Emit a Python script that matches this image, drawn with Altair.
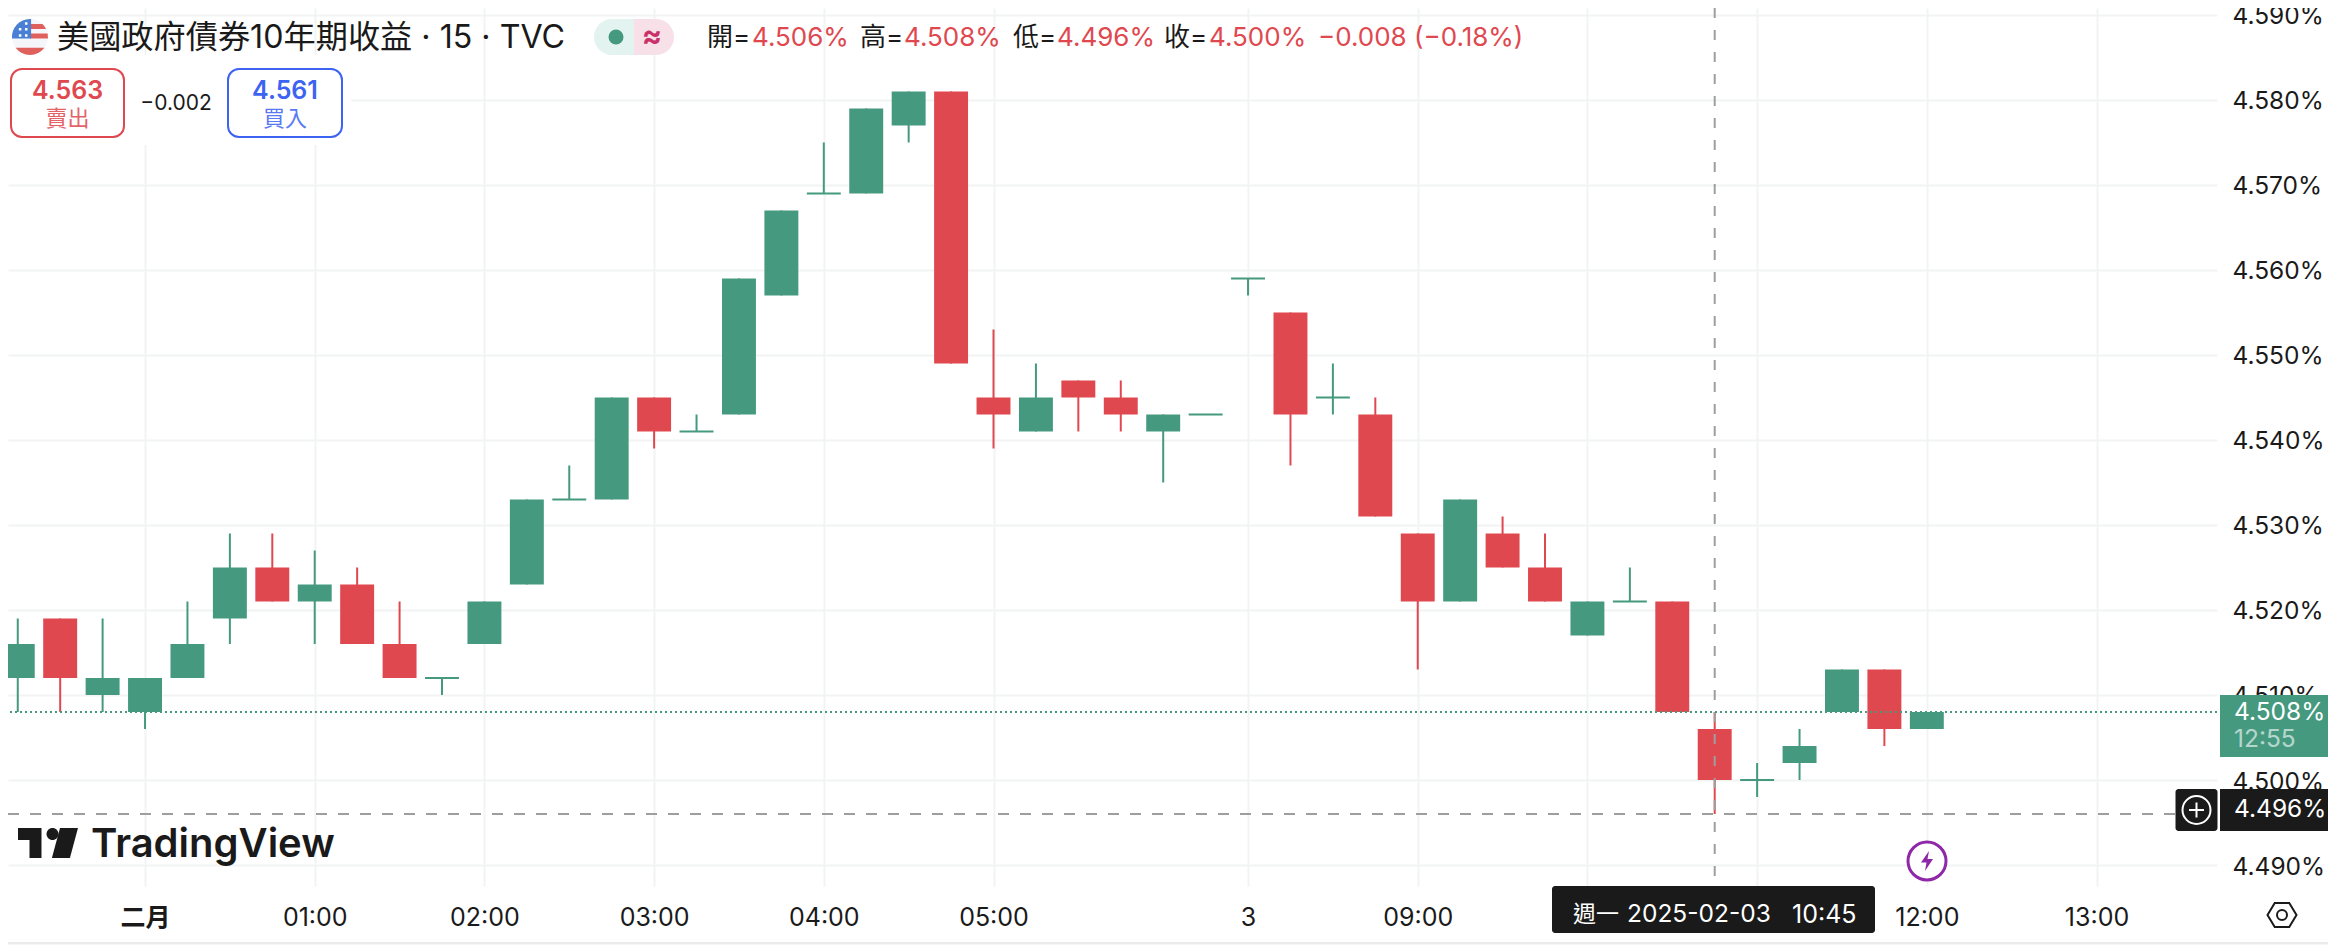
import altair as alt
import pandas as pd

# ---- data (15-minute bars, bar index 0 = 二月 00:00)
idx = list(range(-3, 43))
opens = [4.512, 4.519, 4.510, 4.508, 4.512, 4.519, 4.525, 4.521, 4.523, 4.516, 4.512, 4.516,
         4.523, 4.533, 4.533, 4.545, 4.541, 4.543, 4.557, 4.569, 4.569, 4.577, 4.581, 4.545,
         4.541, 4.547, 4.545, 4.541, 4.543, 4.559, 4.555, 4.545, 4.543, 4.529, 4.521, 4.529,
         4.525, 4.517, 4.521, 4.521, 4.506, 4.500, 4.502, 4.508, 4.513, 4.506]
highs = [4.519, 4.519, 4.519, 4.512, 4.521, 4.529, 4.529, 4.527, 4.525, 4.521, 4.512, 4.521,
         4.533, 4.537, 4.545, 4.545, 4.543, 4.559, 4.567, 4.575, 4.579, 4.581, 4.581, 4.553,
         4.549, 4.547, 4.547, 4.543, 4.543, 4.559, 4.555, 4.549, 4.545, 4.529, 4.533, 4.531,
         4.529, 4.521, 4.525, 4.521, 4.508, 4.502, 4.506, 4.513, 4.513, 4.508]
lows = [4.508, 4.508, 4.508, 4.506, 4.512, 4.516, 4.521, 4.516, 4.516, 4.512, 4.510, 4.516,
        4.523, 4.533, 4.533, 4.539, 4.541, 4.543, 4.557, 4.569, 4.569, 4.575, 4.549, 4.539,
        4.541, 4.541, 4.541, 4.535, 4.543, 4.557, 4.537, 4.543, 4.531, 4.513, 4.521, 4.525,
        4.521, 4.517, 4.521, 4.508, 4.496, 4.498, 4.500, 4.508, 4.504, 4.506]
closes = [4.516, 4.512, 4.512, 4.512, 4.516, 4.525, 4.521, 4.523, 4.516, 4.512, 4.512, 4.521,
          4.533, 4.533, 4.545, 4.541, 4.541, 4.559, 4.567, 4.569, 4.579, 4.581, 4.549, 4.543,
          4.545, 4.545, 4.543, 4.543, 4.543, 4.559, 4.543, 4.545, 4.531, 4.521, 4.533, 4.525,
          4.521, 4.521, 4.521, 4.508, 4.500, 4.500, 4.504, 4.513, 4.506, 4.508]

x_tick_idx = [0, 4, 8, 12, 16, 20, 26, 30, 34, 38, 42, 46]
x_tick_txt = ["二月", "01:00", "02:00", "03:00", "04:00", "05:00", "3", "09:00", "10:00", "", "12:00", "13:00"]
y_ticks = [4.49, 4.50, 4.51, 4.52, 4.53, 4.54, 4.55, 4.56, 4.57, 4.58, 4.59]
last_price = [4.508]
cross_price = [4.496]
cross_idx = [37]

title_txt = "美國政府債券10年期收益 · 15 · TVC"
ohlc_names = ["開=", "高=", "低=", "收="]
ohlc_vals = ["4.506%", "4.508%", "4.496%", "4.500%"]
change_txt = "−0.008 (−0.18%)"

GREEN = "#45997F"
RED = "#E0484F"
BLUE = "#3D63F2"
DARK = "#1A1A1A"
GRID = "#F2F3F3"
FONT = "Inter, 'Noto Sans CJK TC', sans-serif"

df = pd.DataFrame({"i": idx, "o": opens, "h": highs, "l": lows, "c": closes})
df["dir"] = ["down" if c < o else "up" for o, c in zip(df.o, df.c)]
df["left"] = df.i - 0.4
df["right"] = df.i + 0.4
df["top"] = df[["o", "c"]].max(axis=1)
df["bot"] = df[["o", "c"]].min(axis=1)
bodies = df[df.o != df.c]
dojis = df[df.o == df.c]

PW, PH = 2209, 878
xscale = alt.Scale(domain=[-3.23, 48.84], nice=False, zero=False)
yscale = alt.Scale(domain=[4.48753, 4.59082], nice=False, zero=False)
colors = alt.Color("dir:N", scale=alt.Scale(domain=["up", "down"], range=[GREEN, RED]), legend=None)

label_map = "{" + ",".join(f"'{a}':'{b}'" for a, b in zip(x_tick_idx, x_tick_txt)) + "}"
xaxis = alt.Axis(values=x_tick_idx, title=None, grid=True, gridColor=GRID, gridWidth=2, domain=False, ticks=False,
                 labelExpr=f"{label_map}[datum.value]", labelFont=FONT, labelFontSize=25, labelColor=DARK,
                 labelPadding=19, labelAngle=0, labelOverlap=False,
                 labelFontWeight=alt.expr("datum.value==0?'bold':'normal'"))
yaxis = alt.Axis(values=y_ticks, title=None, orient="right", grid=True, gridColor=GRID, gridWidth=2, domain=False,
                 ticks=False, labelExpr="format(datum.value,'.3f')+'%'", labelFont=FONT, labelFontSize=24.5,
                 labelColor=DARK, labelPadding=15, labelOffset=2, labelOverlap=False, labelBound=False, labelFlush=False)

wicks = alt.Chart(df).mark_rule(strokeWidth=2, clip=True).encode(
    x=alt.X("i:Q", scale=xscale, axis=xaxis),
    y=alt.Y("l:Q", scale=yscale, axis=yaxis),
    y2="h:Q", color=colors)
body = alt.Chart(bodies).mark_rect(clip=True).encode(
    x=alt.X("left:Q", scale=xscale), x2="right:Q",
    y=alt.Y("bot:Q", scale=yscale), y2="top:Q", color=colors)
doji = alt.Chart(dojis).mark_rule(strokeWidth=2, clip=True).encode(
    x=alt.X("left:Q", scale=xscale), x2="right:Q",
    y=alt.Y("c:Q", scale=yscale), color=colors)

last_line = alt.Chart(pd.DataFrame({"p": last_price})).mark_rule(
    color=GREEN, strokeWidth=2, strokeDash=[2, 3]).encode(y=alt.Y("p:Q", scale=yscale))
cross_h = alt.Chart(pd.DataFrame({"p": cross_price})).mark_rule(
    color="#9E9E9E", strokeWidth=2, strokeDash=[11, 11]).encode(
    y=alt.Y("p:Q", scale=yscale), x=alt.value(0), x2=alt.value(2168))
cross_v = alt.Chart(pd.DataFrame({"i": cross_idx})).mark_rule(
    color="#9E9E9E", strokeWidth=2, strokeDash=[10, 12]).encode(x=alt.X("i:Q", scale=xscale))

one = pd.DataFrame({"k": [0]})


def box(x0, y0, x1, y1, **kw):
    return alt.Chart(one).mark_rect(**kw).encode(
        x=alt.value(x0 - 8), x2=alt.value(x1 - 8), y=alt.value(y0 - 8), y2=alt.value(y1 - 8))


def label(s, x, y, size, color=DARK, align="left", weight=400, opacity=1):
    return alt.Chart(pd.DataFrame({"t": [s]})).mark_text(
        font=FONT, fontSize=size, color=color, align=align, baseline="middle", fontWeight=weight,
        opacity=opacity).encode(x=alt.value(x - 8), y=alt.value(y - 8), text="t:N")


def sym(path, x, y, d, color, filled=True, sw=2):
    if not filled:
        kw = dict(filled=False, stroke=color, strokeWidth=sw)
    else:
        kw = dict(filled=True, color=color, strokeWidth=0)
    return alt.Chart(one).mark_point(shape=path, size=d * d, opacity=1, **kw).encode(
        x=alt.value(x - 8), y=alt.value(y - 8))


def disc(x, y, d, fill, stroke=None, sw=2):
    kw = dict(fill=fill, filled=True, strokeWidth=0)
    if stroke:
        kw = dict(fill=fill, filled=True, stroke=stroke, strokeWidth=sw)
    return alt.Chart(one).mark_point(shape="circle", size=d * d, opacity=1, fillOpacity=1, **kw).encode(
        x=alt.value(x - 8), y=alt.value(y - 8))


layers = [box(0, 55, 351, 145, color="white"), wicks, body, doji, cross_v, cross_h, last_line]

# flag
layers += [
    disc(30, 37, 36, "#F4F6FA"),
    sym("M-0.8,0.6 A1,1 0 0 0 0.8,0.6 L0.8,0.6 Z", 30, 37, 36, "#E0605C"),
    sym("M0,-0.72 L0.69,-0.72 A1,1 0 0 1 0.89,-0.45 L0,-0.45 Z", 30, 37, 36, "#E0605C"),
    sym("M0,-0.2 L0.98,-0.2 L1,0.08 L0,0.08 Z", 30, 37, 36, "#E0605C"),
    sym("M-1,0.08 A1,1 0 0 1 0,-1 L0.06,-1 L0.06,0.08 Z", 30, 37, 36, "#4A7FD6"),
    sym("M-0.62,-0.5 h0.14 v0.14 h-0.14 Z M-0.28,-0.5 h0.14 v0.14 h-0.14 Z M-0.62,-0.15 h0.14 v0.14 h-0.14 Z "
        "M-0.28,-0.15 h0.14 v0.14 h-0.14 Z M-0.28,-0.82 h0.14 v0.14 h-0.14 Z", 30, 37, 36, "white"),
]
layers.append(label(title_txt, 57, 38, 32.2))
# status pill
layers += [
    box(594, 19, 634, 55, color="#E3F3EF", cornerRadiusTopLeft=18, cornerRadiusBottomLeft=18),
    box(634, 19, 674, 55, color="#F7E0E8", cornerRadiusTopRight=18, cornerRadiusBottomRight=18),
    disc(616, 37, 15, GREEN),
    label("≈", 652, 37, 30, color="#C9316A", align="center", weight=700),
]
# OHLC row
for name, nx, val, vx in zip(ohlc_names, [707, 860, 1013, 1164], ohlc_vals, [752, 904, 1057, 1209]):
    layers += [label(name, nx, 38, 26), label(val, vx, 38, 26, color=RED)]
layers.append(label(change_txt, 1318, 38, 26, color=RED))
# sell / buy buttons
layers += [
    box(11, 69, 124, 137, fill="white", stroke=RED, strokeWidth=2, cornerRadius=11),
    box(228, 69, 342, 137, fill="white", stroke=BLUE, strokeWidth=2, cornerRadius=11),
    label("4.563", 67.5, 91, 25, color=RED, align="center", weight=600),
    label("賣出", 67.5, 119, 22, color=RED, align="center", opacity=0.85),
    label("−0.002", 176, 104, 21, align="center"),
    label("4.561", 285, 91, 25, color=BLUE, align="center", weight=600),
    label("買入", 285, 119, 22, color=BLUE, align="center", opacity=0.85),
]
# TradingView logo
layers += [
    sym("M-1,-0.5 L-0.217,-0.5 L-0.217,0.5 L-0.617,0.5 L-0.617,-0.1 L-1,-0.1 Z", 48, 843, 60, DARK),
    sym("M-0.05,-0.3 A0.2,0.2 0 1 0 0.35,-0.3 A0.2,0.2 0 1 0 -0.05,-0.3 Z", 48, 843, 60, DARK),
    sym("M0.4,-0.5 L1,-0.5 L0.73,0.5 L0.13,0.5 Z", 48, 843, 60, DARK),
    label("TradingView", 91, 845, 40, weight=600),
]
# last price tag
layers += [
    box(2220, 695, 2340, 757, color=GREEN),
    label("4.508%", 2234, 713, 24.5, color="white"),
    label("12:55", 2234, 740, 24.5, color="white", opacity=0.6),
]
# crosshair price tag
layers += [
    box(2175.5, 789, 2217.5, 831, color=DARK, cornerRadius=3),
    box(2220, 789, 2340, 831, color=DARK),
    alt.Chart(one).mark_point(shape="circle", size=28 * 28, filled=False, stroke="white", strokeWidth=2, opacity=1).encode(
        x=alt.value(2196.5 - 8), y=alt.value(810 - 8)),
    sym("M-1,0 L1,0 M0,-1 L0,1", 2196.5, 810, 15, "white", filled=False, sw=2),
    label("4.496%", 2234, 810, 24.5, color="white"),
]
# time tag
layers += [
    box(1552, 886, 1875, 933, color=DARK, cornerRadius=3),
    label("週一", 1573, 915, 23, color="white"),
    label("2025-02-03", 1627, 915, 24.5, color="white"),
    label("10:45", 1792, 915, 25, color="white"),
]
# lightning badge
layers += [
    disc(1927, 861, 38, "white", stroke="#8E27A8", sw=3),
    sym("M0.2,-1 L-0.6,0.15 L-0.05,0.15 L-0.2,1 L0.6,-0.2 L0.05,-0.2 Z", 1927, 861, 20, "#8E27A8"),
]
# settings hexagon
layers += [
    sym("M-1,0 L-0.5,-0.83 L0.5,-0.83 L1,0 L0.5,0.83 L-0.5,0.83 Z", 2282, 915, 29, DARK, filled=False, sw=2),
    alt.Chart(one).mark_point(shape="circle", size=100, filled=False, stroke=DARK, strokeWidth=2, opacity=1).encode(
        x=alt.value(2282 - 8), y=alt.value(915 - 8)),
]
# bottom stripe
layers.append(box(0, 942, 2340, 944.5, color="#EBEBEB"))

chart = alt.layer(*layers).properties(
    width=PW, height=PH,
    padding={"left": 0, "top": 0, "right": 111, "bottom": 60},
    autosize=alt.AutoSizeParams(type="none"),
    background="white",
).configure_view(stroke=None)

chart.save("out.html", embed_options={"renderer": "svg", "actions": False})
